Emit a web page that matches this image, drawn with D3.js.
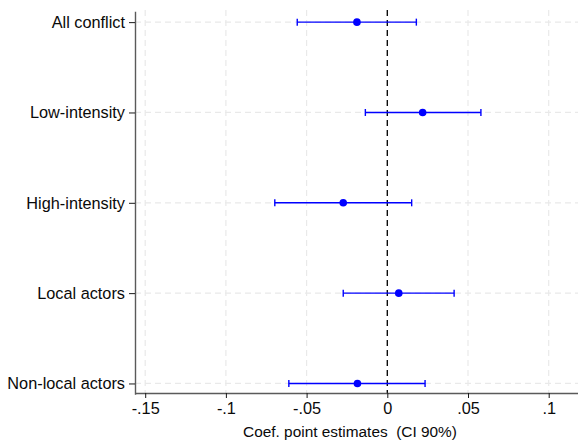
<!DOCTYPE html>
<html>
<head>
<meta charset="utf-8">
<script src="https://cdn.jsdelivr.net/npm/d3@7"></script>
<style>
  body { margin: 0; background: #fff; }
  text { font-family: "Liberation Sans", Arial, sans-serif; }
</style>
</head>
<body>
<div id="chart"></div>
<script>
// coefficient plot, CI 90%

var categories = ['All conflict', 'Low-intensity', 'High-intensity', 'Local actors', 'Non-local actors'];
var estimates = [-0.0188, 0.0219, -0.0273, 0.0071, -0.0185];
var ciLow = [-0.0558, -0.0136, -0.0697, -0.0273, -0.0610];
var ciHigh = [0.0180, 0.0580, 0.0151, 0.0414, 0.0234];
var xTicks = [-0.15, -0.1, -0.05, 0, 0.05, 0.1];
var xTickLabels = ['-.15', '-.1', '-.05', '0', '.05', '.1'];

var width = 578,
    height = 441;
var plotLeft = 135, plotRight = 578, plotTop = 10, plotBottom = 393;

var svg = d3.select('#chart').append('svg')
    .attr('width', width)
    .attr('height', height);

var x = d3.scaleLinear()
    .domain([(plotLeft - 387.3) / 1614, (plotRight - 387.3) / 1614])
    .range([plotLeft, plotRight]);

var y = d3.scalePoint()
    .domain(categories)
    .range([plotTop + 1.3, plotBottom + 1.3])
    .padding(0.12);

var blue = '#0000ff';

// grid
svg.append('g').selectAll('line')
    .data(xTicks)
  .enter().append('line')
    .attr('x1', function(d) { return x(d); })
    .attr('x2', function(d) { return x(d); })
    .attr('y1', plotTop)
    .attr('y2', plotBottom)
    .attr('stroke', '#e9e9e9')
    .attr('stroke-width', 1.2)
    .attr('stroke-dasharray', '6,4');

svg.append('g').selectAll('line')
    .data(categories)
  .enter().append('line')
    .attr('x1', plotLeft)
    .attr('x2', plotRight)
    .attr('y1', function(d) { return y(d); })
    .attr('y2', function(d) { return y(d); })
    .attr('stroke', '#e9e9e9')
    .attr('stroke-width', 1.2)
    .attr('stroke-dasharray', '6,4');

// zero reference line
svg.append('line')
    .attr('x1', x(0))
    .attr('x2', x(0))
    .attr('y1', plotTop)
    .attr('y2', plotBottom)
    .attr('stroke', '#000')
    .attr('stroke-width', 1.3)
    .attr('stroke-dasharray', '6,4');

// axes
var xAxis = svg.append('g')
    .attr('transform', 'translate(0,' + plotBottom + ')')
    .call(d3.axisBottom(x)
      .tickValues(xTicks)
      .tickFormat(function(d, i) { return xTickLabels[i]; })
      .tickSize(5)
      .tickPadding(4)
      .tickSizeOuter(0));

var yAxis = svg.append('g')
    .attr('transform', 'translate(' + plotLeft + ',0)')
    .call(d3.axisLeft(y)
      .tickSize(6)
      .tickPadding(4)
      .tickSizeOuter(0));

[xAxis, yAxis].forEach(function(a) {
  a.select('.domain').attr('stroke', '#5a5a5a').attr('stroke-width', 1.4);
  a.selectAll('.tick line').attr('stroke', '#1a1a1a');
  a.selectAll('.tick text')
    .attr('fill', '#0a0a0a')
    .style('font-size', '16.3px')
    .style('font-family', '"Liberation Sans", Arial, sans-serif');
});

// axis title
svg.append('text')
    .attr('x', 350)
    .attr('y', 437)
    .attr('text-anchor', 'middle')
    .attr('fill', '#0a0a0a')
    .style('font-size', '15.4px')
    .text('Coef. point estimates \u00a0(CI 90%)');

// error bars
var bars = svg.append('g');
categories.forEach(function(c, i) {
  var cy = y(c);
  bars.append('line')
      .attr('x1', x(ciLow[i]))
      .attr('x2', x(ciHigh[i]))
      .attr('y1', cy)
      .attr('y2', cy)
      .attr('stroke', blue)
      .attr('stroke-width', 1.4);
  [ciLow[i], ciHigh[i]].forEach(function(v) {
    bars.append('line')
        .attr('x1', x(v))
        .attr('x2', x(v))
        .attr('y1', cy - 3.5)
        .attr('y2', cy + 3.5)
        .attr('stroke', blue)
        .attr('stroke-width', 1.4);
  });
  bars.append('circle')
      .attr('cx', x(estimates[i]))
      .attr('cy', cy)
      .attr('r', 3.8)
      .attr('fill', blue);
});
</script>
</body>
</html>
